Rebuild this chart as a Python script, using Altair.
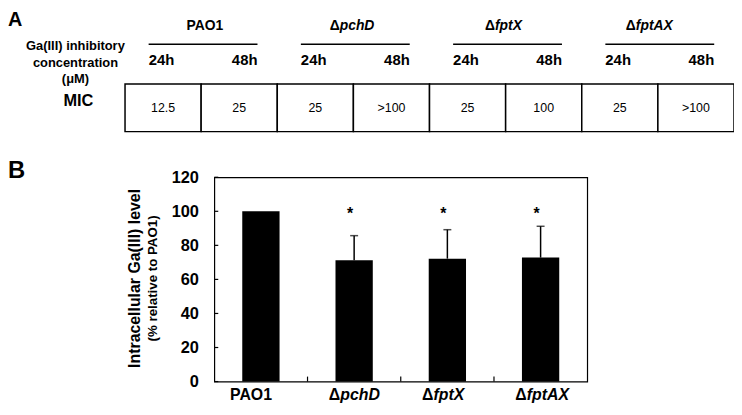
import altair as alt
import pandas as pd

# ---------------- data ----------------
# Panel A: MIC table
groups = ["PAO1", "ΔpchD", "ΔfptX", "ΔfptAX"]
group_prefix = ["", "Δ", "Δ", "Δ"]
group_gene = ["PAO1", "pchD", "fptX", "fptAX"]
hours = ["24h", "48h"]
mic_values = ["12.5", "25", "25", ">100", "25", "100", "25", ">100"]

# Panel B: intracellular Ga(III) level
strains = ["PAO1", "ΔpchD", "ΔfptX", "ΔfptAX"]
ga_level = [100, 71.2, 72.2, 72.8]
ga_err = [0, 14.5, 17.0, 18.4]
signif = ["", "*", "*", "*"]
y_ticks = [0, 20, 40, 60, 80, 100, 120]

# ---------------- layout / style ----------------
FONT = "Liberation Sans"
PW, PH = 376, 206                 # bar-chart plot area
TABLE_RANGE = [-90, 524]          # table extent (pixels, relative to plot origin)
HDR_SHIFT = [0.05, -0.18, -0.14, -0.29]  # header label anchor offsets (cells)
STAR_LEVEL = 95.4                 # baseline of significance asterisks (axis units)

cells_df = pd.DataFrame({
    "idx": list(range(len(mic_values))),
    "group": [g for g in groups for _ in hours],
    "hour": hours * len(groups),
    "mic": mic_values,
})
groups_df = pd.DataFrame({
    "gi": list(range(len(groups))),
    "group": groups,
    "prefix": group_prefix,
    "gene": group_gene,
    "shift": HDR_SHIFT,
})
bdf = pd.DataFrame({
    "strain": strains,
    "level": ga_level,
    "err": ga_err,
    "sig": signif,
    "prefix": group_prefix,
    "gene": group_gene,
})
one = pd.DataFrame({"k": [0]})


def xA(field):
    return alt.X(field, type="quantitative",
                 scale=alt.Scale(domain=[0, 8], range=TABLE_RANGE, nice=False, zero=False),
                 axis=None)


txt = dict(font=FONT, color="black")

# ---------------- Panel A ----------------
cells = alt.Chart(cells_df).transform_calculate(x1="datum.idx + 1").mark_rect(
    fill="white", stroke="black", strokeWidth=1.5
).encode(x=xA("idx"), x2="x1:Q", y=alt.value(-94), y2=alt.value(-46))

mic_txt = alt.Chart(cells_df).transform_calculate(xc="datum.idx + 0.5").mark_text(
    fontSize=12.5, baseline="middle", align="center", **txt
).encode(x=xA("xc"), y=alt.value(-70), text="mic:N")

grp_lines = alt.Chart(groups_df).transform_calculate(
    l0="2 * datum.gi + 0.31", l1="2 * datum.gi + 1.74"
).mark_rule(color="black", strokeWidth=1.5).encode(
    x=xA("l0"), x2="l1:Q", y=alt.value(-134)
)

h24 = alt.Chart(cells_df).transform_filter("datum.hour == '24h'").transform_calculate(
    hx="datum.idx + 0.31"
).mark_text(fontSize=15, fontWeight="bold", align="left", baseline="middle", **txt).encode(
    x=xA("hx"), y=alt.value(-118), text="hour:N"
)
h48 = alt.Chart(cells_df).transform_filter("datum.hour == '48h'").transform_calculate(
    hx="datum.idx + 0.74"
).mark_text(fontSize=15, fontWeight="bold", align="right", baseline="middle", **txt).encode(
    x=xA("hx"), y=alt.value(-118), text="hour:N"
)

hdr_plain = alt.Chart(groups_df).transform_filter("datum.prefix == ''").transform_calculate(
    hx="2 * datum.gi + 1 + datum.shift"
).mark_text(fontSize=14, fontWeight="bold", align="center", baseline="middle", **txt).encode(
    x=xA("hx"), y=alt.value(-152), text="gene:N"
)
hdr_delta = alt.Chart(groups_df).transform_filter("datum.prefix != ''").transform_calculate(
    hx="2 * datum.gi + 1 + datum.shift"
).mark_text(fontSize=14, fontWeight="bold", align="right", baseline="middle", **txt).encode(
    x=xA("hx"), y=alt.value(-152), text="prefix:N"
)
hdr_gene = alt.Chart(groups_df).transform_filter("datum.prefix != ''").transform_calculate(
    hx="2 * datum.gi + 1 + datum.shift"
).mark_text(fontSize=14, fontWeight="bold", fontStyle="italic", align="left",
            baseline="middle", **txt).encode(
    x=xA("hx"), y=alt.value(-152), text="gene:N"
)

panelA = alt.layer(cells, mic_txt, grp_lines, h24, h48, hdr_plain, hdr_delta, hdr_gene)

# ---------------- Panel B ----------------
xB = alt.X("strain:N", sort=strains,
           scale=alt.Scale(domain=strains, paddingInner=0.6, paddingOuter=0.3),
           axis=None)
yscale = alt.Scale(domain=[0, 120], nice=False)
yaxis = alt.Axis(values=y_ticks, ticks=False, tickSize=0, domain=False, grid=False,
                 labelFont=FONT, labelFontSize=16.5, labelFontWeight="bold",
                 labelColor="black", labelPadding=16, labelOverlap=False,
                 labelFlush=False, title=None)


def yB(field):
    return alt.Y(field, type="quantitative", scale=yscale, axis=yaxis)


bars = alt.Chart(bdf).mark_bar(color="black").encode(x=xB, y=yB("level"))
err_rule = alt.Chart(bdf).transform_filter("datum.err > 0").transform_calculate(
    top="datum.level + datum.err"
).mark_rule(color="black", strokeWidth=1.5).encode(x=xB, y=yB("level"), y2="top:Q")
err_cap = alt.Chart(bdf).transform_filter("datum.err > 0").transform_calculate(
    top="datum.level + datum.err"
).mark_tick(color="black", orient="horizontal", size=8, thickness=1.5).encode(
    x=xB, y=yB("top"))

stars = alt.Chart(bdf).transform_filter("datum.sig != ''").transform_calculate(
    sy=str(STAR_LEVEL)
).mark_text(
    fontSize=16, fontWeight="bold", align="center", baseline="alphabetic", dx=-4, **txt
).encode(x=xB, y=yB("sy"), text="sig:N")

yt = alt.Chart(pd.DataFrame({"v": y_ticks})).mark_rule(color="black", strokeWidth=1.2).encode(
    y=yB("v"), x=alt.value(0), x2=alt.value(4)
)

lab_plain = alt.Chart(bdf).transform_filter("datum.prefix == ''").mark_text(
    fontSize=16, fontWeight="bold", align="center", baseline="middle", dx=-10, **txt
).encode(x=xB, y=alt.value(220), text="gene:N")
lab_delta = alt.Chart(bdf).transform_filter("datum.prefix != ''").mark_text(
    fontSize=16, fontWeight="bold", align="right", baseline="middle", dx=-14, **txt
).encode(x=xB, y=alt.value(220), text="prefix:N")
lab_gene = alt.Chart(bdf).transform_filter("datum.prefix != ''").mark_text(
    fontSize=16, fontWeight="bold", fontStyle="italic", align="left", baseline="middle",
    dx=-14, **txt
).encode(x=xB, y=alt.value(220), text="gene:N")

panelB = alt.layer(bars, err_rule, err_cap, stars, yt, lab_plain, lab_delta, lab_gene)

# inward x ticks at category boundaries
xticks = alt.Chart(pd.DataFrame({"strain": strains[1:]})).mark_rule(
    color="black", strokeWidth=1.2
).encode(
    x=alt.X("strain:N", bandPosition=0,
            scale=alt.Scale(domain=strains, paddingInner=0, paddingOuter=0), axis=None),
    y=alt.value(PH), y2=alt.value(PH - 5),
)

# ---------------- static labels ----------------
lab_A = alt.Chart(one).mark_text(text="A", fontSize=20, fontWeight="bold", align="left",
                                 baseline="alphabetic", **txt).encode(
    x=alt.value(-208), y=alt.value(-152))
lab_Bp = alt.Chart(one).mark_text(text="B", fontSize=24, fontWeight="bold", align="left",
                                  baseline="alphabetic", **txt).encode(
    x=alt.value(-208), y=alt.value(1))
row_hdr = alt.Chart(one).mark_text(
    text=["Ga(III) inhibitory", "concentration", "(μM)"], fontSize=13, fontWeight="bold",
    align="center", baseline="middle", lineHeight=16.5, **txt
).encode(x=alt.value(-140), y=alt.value(-132))
mic_lab = alt.Chart(one).mark_text(text="MIC", fontSize=16.5, fontWeight="bold", align="center",
                                   baseline="middle", **txt).encode(
    x=alt.value(-137), y=alt.value(-77))
ytitle1 = alt.Chart(one).mark_text(text="Intracellular Ga(III) level", fontSize=16,
                                   fontWeight="bold", angle=270, align="center",
                                   baseline="middle", **txt).encode(
    x=alt.value(-80), y=alt.value(102))
ytitle2 = alt.Chart(one).mark_text(text="(% relative to PAO1)", fontSize=13.4,
                                   fontWeight="bold", angle=270, align="center",
                                   baseline="middle", **txt).encode(
    x=alt.value(-62), y=alt.value(102))

static = alt.layer(lab_A, lab_Bp, row_hdr, mic_lab, ytitle1, ytitle2)

chart = alt.layer(panelB, xticks, panelA, static).resolve_scale(
    x="independent", y="independent"
).properties(
    width=PW, height=PH,
    padding={"left": 208, "top": 169, "right": 148, "bottom": 24},
    autosize=alt.AutoSizeParams(type="none"),
).configure_view(stroke="black", strokeWidth=1.2)

chart.save("out.html", embed_options={"renderer": "svg", "actions": False})
